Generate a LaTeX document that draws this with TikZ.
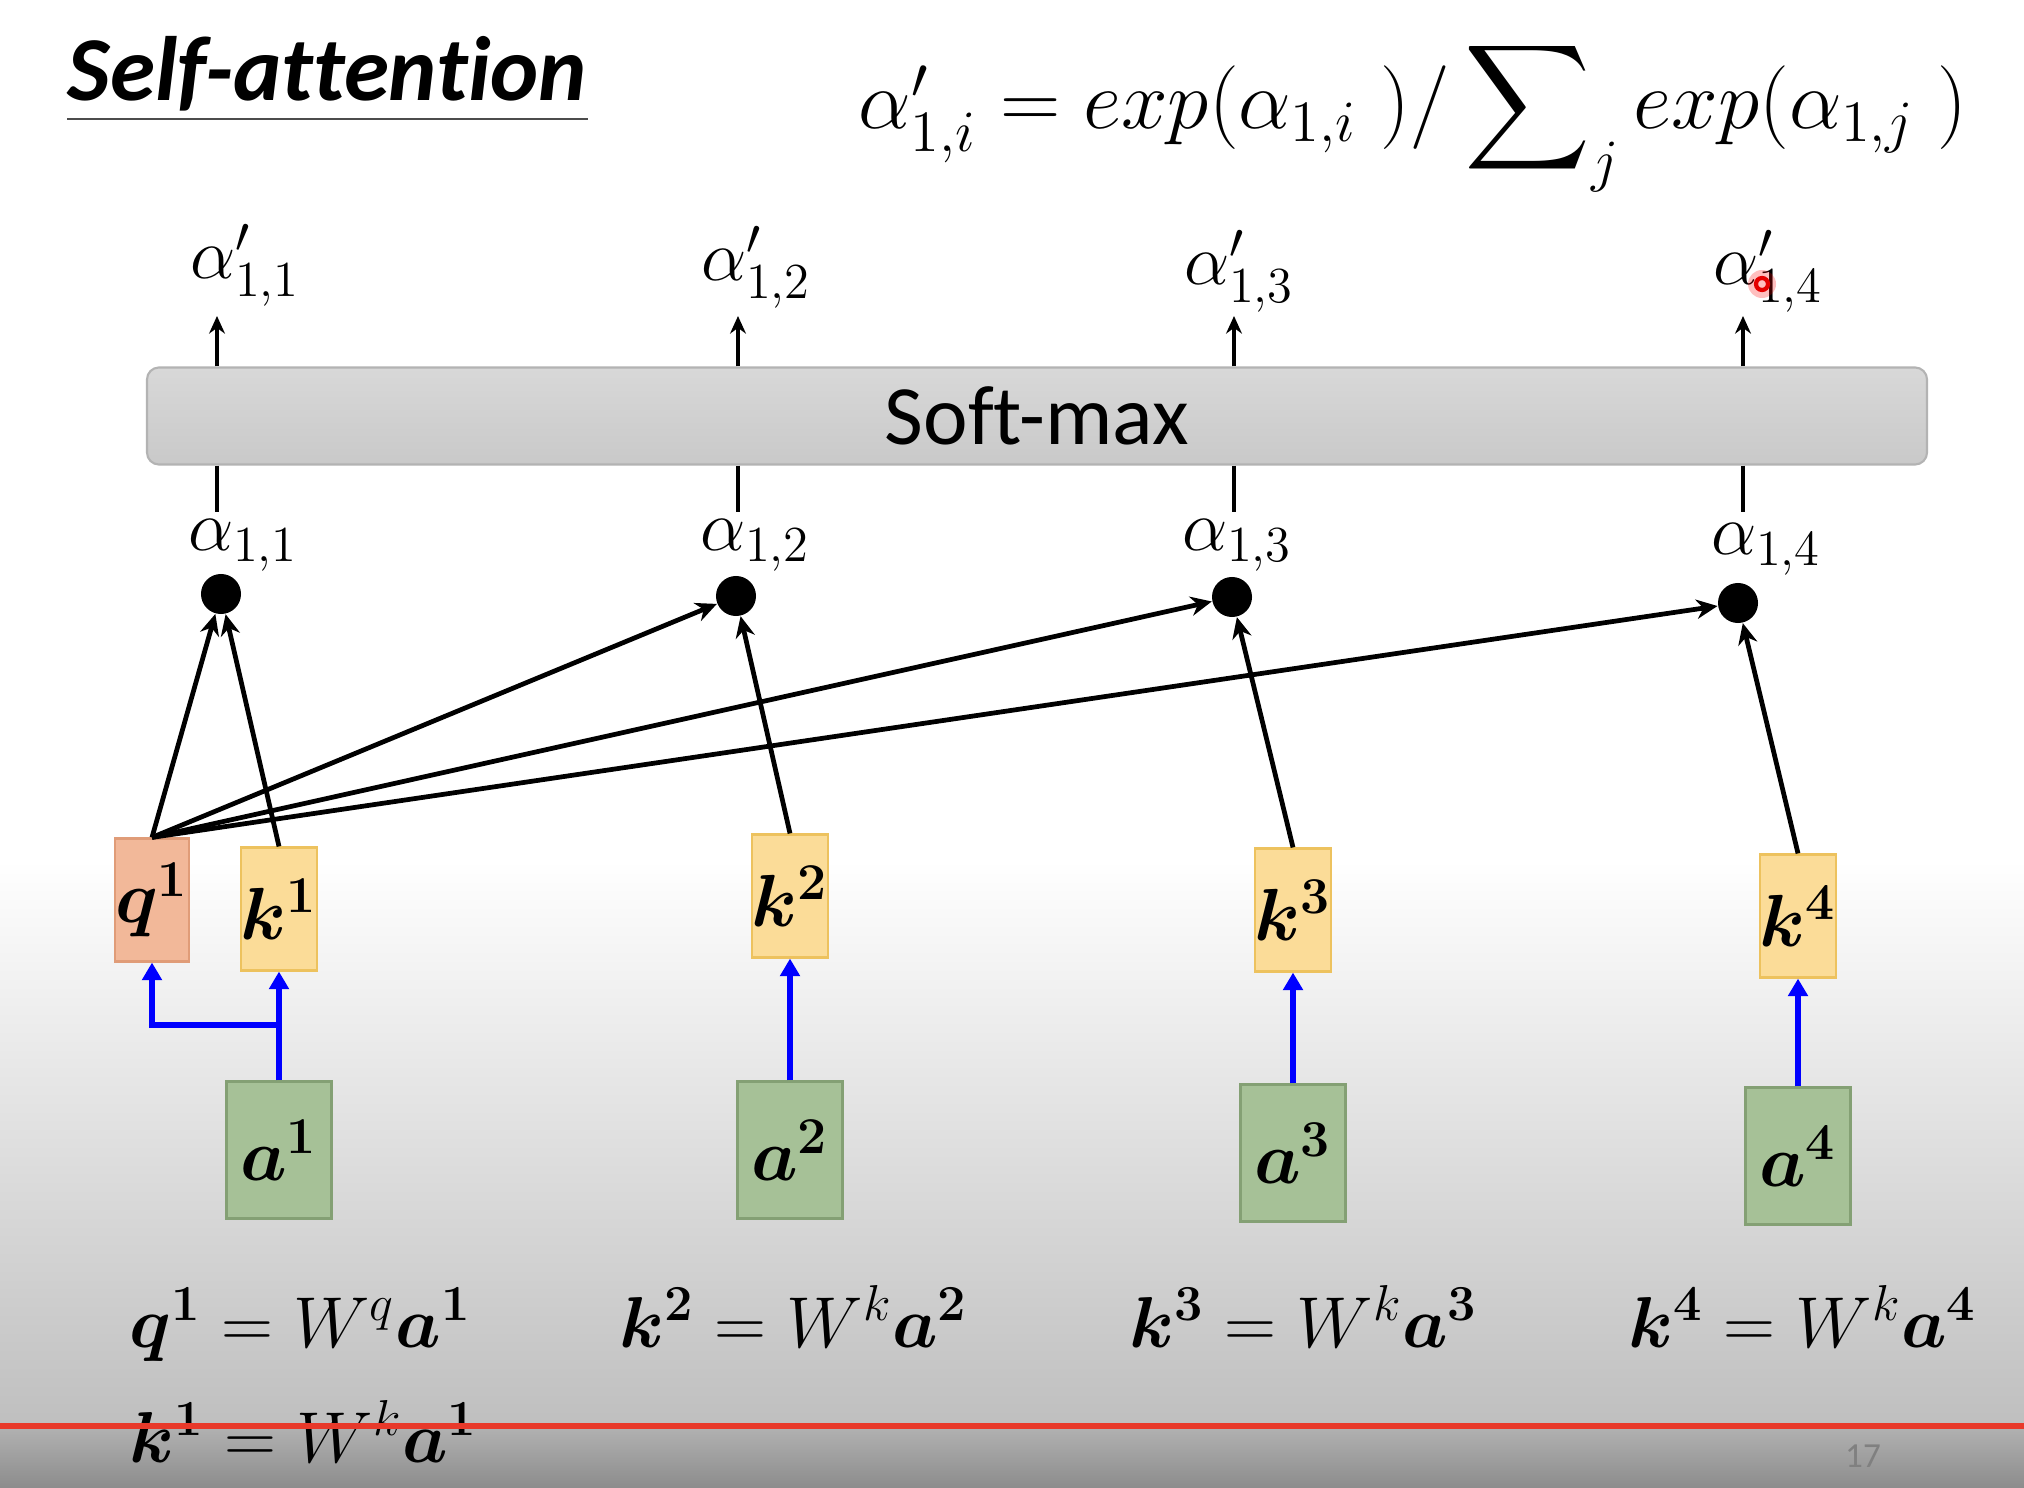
\RequirePackage{fix-cm}
\documentclass[tikz,border=0pt]{standalone}
\usepackage[no-math]{fontspec}
\setmainfont{Carlito}[Ligatures=NoCommon]
\usepackage{amsmath,bm}
\usetikzlibrary{arrows.meta, calc, positioning}
\definecolor{qfill}{HTML}{F2B899}
\definecolor{qline}{HTML}{E09C78}
\definecolor{kfill}{HTML}{FBDC98}
\definecolor{kline}{HTML}{EDC25E}
\definecolor{afill}{HTML}{A6C197}
\definecolor{aline}{HTML}{84A074}
\definecolor{smtop}{HTML}{D8D8D8}
\definecolor{smbot}{HTML}{C9C9C9}
\definecolor{smline}{HTML}{B3B3B3}
\definecolor{bgmid}{HTML}{BFBFBF}
\definecolor{bglow}{HTML}{B2B2B2}
\definecolor{bgbot}{HTML}{8C8C8C}
\definecolor{redbar}{HTML}{E8392A}
\tikzset{
  vec/.style = {
    rectangle, line width=0.6pt,
    minimum width=0.66cm, minimum height=1.23cm,
    inner sep=0pt, font=\fontsize{21}{24}\selectfont
  },
  qbox/.style = {vec, fill=qfill, draw=qline},
  kbox/.style = {vec, fill=kfill, draw=kline},
  abox/.style = {vec, fill=afill, draw=aline,
                 minimum width=1.05cm, minimum height=1.37cm},
  smbox/.style = {
    rectangle, rounded corners=0.12cm, draw=smline, line width=0.6pt,
    top color=smtop, bottom color=smbot,
    minimum width=17.79cm, minimum height=0.97cm,
    font=\fontsize{24}{28}\selectfont
  },
  dot/.style  = {circle, fill=black, minimum size=0.4cm, inner sep=0pt},
  lbl/.style  = {inner sep=0pt, font=\fontsize{20.5}{24}\selectfont},
  eqn/.style  = {anchor=base west, inner sep=0pt, font=\fontsize{20.5}{24}\selectfont},
  arr/.style  = {-{Stealth[length=6pt,width=5.5pt]}, line width=1.35pt},
  uarr/.style = {-{Stealth[length=5pt,width=4.5pt]}, line width=1pt},
  stub/.style = {line width=1pt},
  blu/.style  = {-{Triangle[length=5pt,width=5.5pt]}, blue, line width=1.5pt}
}
\begin{document}
\begin{tikzpicture}[x=0.01cm, y=-0.01cm]
  \useasboundingbox (0,0) rectangle (2024,1488);

  %% Background
  \fill[white] (0,0) rectangle (2024,1488);
  \shade[top color=white, bottom color=bgmid] (0,860) rectangle (2024,1426);
  \shade[top color=bglow, bottom color=bgbot] (0,1426) rectangle (2024,1488);

  %% Title and formula
  \node[anchor=base west, inner sep=0pt,
        font=\fontsize{26}{30}\selectfont\bfseries\itshape] (ttl) at (67,101) {Self-attention};
  \draw[line width=0.6pt, black!70] ([yshift=-2pt]ttl.south west) -- ([yshift=-2pt]ttl.south east);
  \node[anchor=base west, inner sep=0pt, font=\fontsize{23.8}{28}\selectfont] (sfm) at (858,129)
    {$\alpha'_{1,i} = exp(\alpha_{1,i}\;)/\displaystyle\sum\nolimits_j exp(\alpha_{1,j}\;)$};

  %% Soft-max
  \node[smbox] (sm) at (1037,416) {Soft-max};

  %% Outputs
  \node[lbl] (p1) at (245,265) {$\alpha'_{1,1}$};
  \node[lbl] (p2) at (756,267) {$\alpha'_{1,2}$};
  \node[lbl] (p3) at (1239,271) {$\alpha'_{1,3}$};
  \node[lbl] (p4) at (1768,271) {$\alpha'_{1,4}$};
  \coordinate (t1) at (217,316);
  \coordinate (t2) at (738,316);
  \coordinate (t3) at (1234,316);
  \coordinate (t4) at (1743,316);
  \draw[uarr] (sm.north -| t1) -- (t1);
  \draw[uarr] (sm.north -| t2) -- (t2);
  \draw[uarr] (sm.north -| t3) -- (t3);
  \draw[uarr] (sm.north -| t4) -- (t4);

  %% Scores
  \coordinate (b1) at (217,512);
  \coordinate (b2) at (738,512);
  \coordinate (b3) at (1234,512);
  \coordinate (b4) at (1743,512);
  \draw[stub] (sm.south -| b1) -- (b1);
  \draw[stub] (sm.south -| b2) -- (b2);
  \draw[stub] (sm.south -| b3) -- (b3);
  \draw[stub] (sm.south -| b4) -- (b4);
  \node[lbl] (s1) at (243,545) {$\alpha_{1,1}$};
  \node[lbl] (s2) at (755,545) {$\alpha_{1,2}$};
  \node[lbl] (s3) at (1237,545) {$\alpha_{1,3}$};
  \node[lbl] (s4) at (1766,549) {$\alpha_{1,4}$};
  \node[dot] (d1) at (221,594) {};
  \node[dot] (d2) at (736,596) {};
  \node[dot] (d3) at (1232,597) {};
  \node[dot] (d4) at (1738,603) {};

  %% Query and keys
  \node[qbox] (q1) at (152,900) {$\bm{q^1}$};
  \node[kbox] (k1) at (279,909) {$\bm{k^1}$};
  \node[kbox] (k2) at (790,896) {$\bm{k^2}$};
  \node[kbox] (k3) at (1293,910) {$\bm{k^3}$};
  \node[kbox] (k4) at (1798,916) {$\bm{k^4}$};

  %% Inputs
  \node[abox] (a1) at (279,1150) {$\bm{a^1}$};
  \node[abox] (a2) at (790,1150) {$\bm{a^2}$};
  \node[abox] (a3) at (1293,1153) {$\bm{a^3}$};
  \node[abox] (a4) at (1798,1156) {$\bm{a^4}$};

  %% q1 against every key
  \draw[arr] (q1.north) -- (d1);
  \draw[arr] (q1.north) -- (d2);
  \draw[arr] (q1.north) -- (d3);
  \draw[arr] (q1.north) -- (d4);
  \draw[arr] (k1.north) -- (d1);
  \draw[arr] (k2.north) -- (d2);
  \draw[arr] (k3.north) -- (d3);
  \draw[arr] (k4.north) -- (d4);

  %% Blue arrows
  \coordinate (br) at (279,1025);
  \draw[blu] (a1.north) -- (k1.south);
  \draw[blu] (br) -| (q1.south);
  \draw[blu] (a2.north) -- (k2.south);
  \draw[blu] (a3.north) -- (k3.south);
  \draw[blu] (a4.north) -- (k4.south);

  %% Equations
  \node[eqn] (e1) at (129,1347) {$\bm{q^1} = W^q\bm{a^1}$};
  \node[eqn] (e2) at (619,1347) {$\bm{k^2} = W^k\bm{a^2}$};
  \node[eqn] (e3) at (1129,1347) {$\bm{k^3} = W^k\bm{a^3}$};
  \node[eqn] (e4) at (1628,1347) {$\bm{k^4} = W^k\bm{a^4}$};
  \node[eqn] (e5) at (129,1462) {$\bm{k^1} = W^k\bm{a^1}$};

  %% Red bar, pointer and page number
  \draw[redbar, line width=1.9pt] (0,1426) -- (2024,1426);
  \fill[red, opacity=0.25] (1762,284) circle (0.14cm);
  \draw[red!90!black, line width=1.2pt] (1762,284) circle (0.06cm);
  \node[font=\fontsize{10}{12}\selectfont, text=gray] (pg) at (1863,1456) {17};
\end{tikzpicture}
\end{document}
